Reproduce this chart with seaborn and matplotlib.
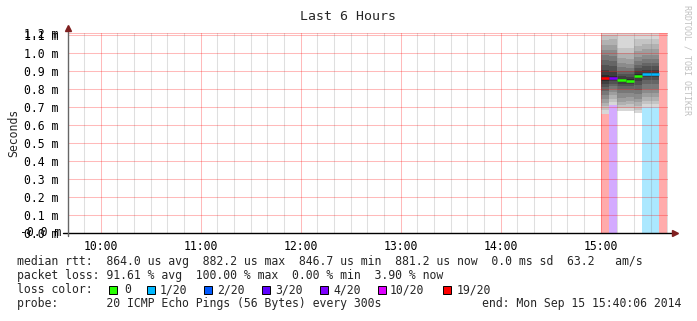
import numpy as np
import pandas as pd
import matplotlib
matplotlib.use("Agg")
import matplotlib.pyplot as plt
import seaborn as sns
from matplotlib.ticker import FixedLocator
from matplotlib.patches import Rectangle
from matplotlib.lines import Line2D

# ---------------- data ----------------
col_start = ["15:00", "15:05", "15:10", "15:15", "15:20", "15:25", "15:30", "15:35"]
loss_count = [19, 4, 0, 0, 0, 1, 1, 20]          # lost pings out of 20
median_ms = [0.861, 0.859, 0.848, 0.846, 0.874, 0.883, 0.883, np.nan]
pings_ms = [
    [0.661, 0.683, 0.706, 0.722, 0.744, 0.767, 0.789, 0.811, 0.828, 0.844,
     0.878, 0.906, 0.933, 0.961, 0.989, 1.017, 1.044, 1.072, 1.100, 1.200],
    [0.713, 0.725, 0.745, 0.765, 0.785, 0.800, 0.815, 0.830, 0.842, 0.852,
     0.872, 0.895, 0.925, 0.955, 0.985, 1.015, 1.045, 1.075, 1.100, 1.200],
    [0.680, 0.695, 0.712, 0.730, 0.750, 0.775, 0.800, 0.815, 0.828, 0.838,
     0.858, 0.872, 0.885, 0.900, 0.920, 0.945, 0.970, 1.000, 1.030, 1.250],
    [0.680, 0.697, 0.715, 0.735, 0.755, 0.778, 0.800, 0.816, 0.830, 0.840,
     0.855, 0.868, 0.882, 0.898, 0.918, 0.940, 0.968, 0.998, 1.030, 1.250],
    [0.668, 0.685, 0.705, 0.725, 0.745, 0.770, 0.795, 0.820, 0.845, 0.862,
     0.886, 0.900, 0.918, 0.935, 0.955, 0.980, 1.010, 1.040, 1.080, 1.250],
    [0.700, 0.715, 0.735, 0.755, 0.775, 0.800, 0.825, 0.850, 0.866, 0.876,
     0.890, 0.905, 0.925, 0.945, 0.965, 0.990, 1.020, 1.050, 1.080, 1.250],
    [0.700, 0.715, 0.735, 0.755, 0.775, 0.800, 0.825, 0.850, 0.866, 0.876,
     0.890, 0.905, 0.925, 0.945, 0.965, 0.990, 1.020, 1.050, 1.080, 1.250],
    [],
]
loss_labels = ["0", "1/20", "2/20", "3/20", "4/20", "10/20", "19/20"]
loss_thresholds = [0, 1, 2, 3, 4, 10, 19]
loss_colors = ["#26ff00", "#00b8ff", "#0059ff", "#5e00ff", "#7e00ff", "#dd00ff", "#ff0000"]

hour_ticks = [10, 11, 12, 13, 14, 15]
hour_labels = ["10:00", "11:00", "12:00", "13:00", "14:00", "15:00"]
y_ticks = [0.0, 0.1, 0.2, 0.3, 0.4, 0.5, 0.6, 0.7, 0.8, 0.9, 1.0, 1.1, 1.111]
y_labels = ["0.0 m", "0.1 m", "0.2 m", "0.3 m", "0.4 m", "0.5 m", "0.6 m", "0.7 m",
            "0.8 m", "0.9 m", "1.0 m", "1.1 m", "1.2 m"]

title = "Last 6 Hours"
ylabel = "Seconds"
line1 = "median rtt:  864.0 us avg  882.2 us max  846.7 us min  881.2 us now  0.0 ms sd  63.2   am/s"
line2 = "packet loss: 91.61 % avg  100.00 % max  0.00 % min  3.90 % now"
line3 = "loss color:"
line4 = "probe:       20 ICMP Echo Pings (56 Bytes) every 300s"
end_text = "end: Mon Sep 15 15:40:06 2014"
watermark = "RRDTOOL / TOBI OETIKER"

x_start, x_end = 9 + 40.1 / 60, 15 + 40.1 / 60
step_h = 5 / 60

# ---------------- helpers ----------------
def to_hours(s):
    h, m = s.split(":")
    return int(h) + int(m) / 60

def loss_index(n):
    idx = 0
    for i, t in enumerate(loss_thresholds):
        if n >= t:
            idx = i
    return idx

def lighten(hexc, a=0.33):
    c = np.array(matplotlib.colors.to_rgb(hexc))
    return tuple(a * c + (1 - a) * 1.0)

# ---------------- figure ----------------
sns.set_theme(style="white")
plt.rcParams["font.family"] = ["DejaVu Sans Mono", "DejaVu Sans"]

W, H = 697, 321
fig = plt.figure(figsize=(W / 100, H / 100), dpi=100)
ax = fig.add_axes([67.5 / W, 88 / H, 600 / W, 200 / H])
ax.set_facecolor("white")

starts = [to_hours(s) for s in col_start]

# loss background bars
for x0, n in zip(starts, loss_count):
    if n > 0:
        ax.bar(x0, 1.2, bottom=0, width=step_h, align="edge",
               color=lighten(loss_colors[loss_index(n)]), linewidth=0, zorder=1)

# smoke
for x0, p in zip(starts, pings_ms):
    if len(p) == 0:
        continue
    p = sorted(p)
    half = len(p) // 2
    for k in range(half):
        g = (215 - 19 * k) / 255
        ax.bar(x0, p[-1 - k] - p[k], bottom=p[k], width=step_h, align="edge",
               color=(g, g, g), linewidth=0, zorder=1.5)

# grid drawn on top of the data (like rrdtool)
ax.grid(False)
minor_x = np.arange(np.ceil(x_start * 6) / 6, x_end, 1 / 6)
minor_x = [v for v in minor_x if abs(v - round(v)) > 1e-6]
ax.vlines(minor_x, 0, 1.2, colors="#808080", alpha=0.25, linewidth=0.75, zorder=3)
ax.vlines(hour_ticks, 0, 1.2, colors="#ff0000", alpha=0.27, linewidth=0.75, zorder=3)
ax.hlines(y_ticks, x_start, x_end, colors="#ff0000", alpha=0.27, linewidth=0.75, zorder=3)

# median lines (seaborn)
rows = []
for i, (x0, m, n) in enumerate(zip(starts, median_ms, loss_count)):
    if np.isnan(m):
        continue
    lab = loss_labels[loss_index(n)]
    rows.append(dict(t=x0, median=m, col=i, loss=lab))
    rows.append(dict(t=x0 + step_h, median=m, col=i, loss=lab))
df = pd.DataFrame(rows)
pal = dict(zip(loss_labels, loss_colors))
sns.lineplot(data=df, x="t", y="median", hue="loss", units="col", estimator=None,
             palette=pal, linewidth=1.8, legend=False, ax=ax, zorder=4)
for ln in ax.get_lines():
    ln.set_solid_capstyle("butt")

# axes limits / ticks
ax.set_xlim(x_start, x_end)
ax.set_ylim(0, 1.111)
ax.xaxis.set_major_locator(FixedLocator(hour_ticks))
ax.set_xticklabels(hour_labels)
ax.xaxis.set_minor_locator(FixedLocator(minor_x))
ax.yaxis.set_major_locator(FixedLocator(y_ticks))
ax.set_yticklabels(y_labels)
ax.set_xlabel("")
ax.set_ylabel("")

ax.tick_params(axis="both", which="major", labelsize=8.3, length=2,
               color="#f0b0b0", labelcolor="black", direction="out")
ax.tick_params(axis="x", which="major", pad=3)
ax.tick_params(axis="y", which="major", pad=4.5)
ax.tick_params(axis="x", which="minor", length=2, color="#dddddd")

for s in ax.spines.values():
    s.set_visible(False)

# axis lines with arrows
ax.add_line(Line2D([-0.008, 1.008], [0, 0], transform=ax.transAxes, color="black",
                   linewidth=1.0, clip_on=False, zorder=6))
ax.plot([1.012], [0], marker=">", markersize=4.5, color="#7f2020",
        transform=ax.transAxes, clip_on=False, zorder=7)
ax.add_line(Line2D([0, 0], [-0.015, 1.02], transform=ax.transAxes, color="#666666",
                   linewidth=1.0, clip_on=False, zorder=6))
ax.plot([0], [1.027], marker="^", markersize=4.5, color="#7f2020",
        transform=ax.transAxes, clip_on=False, zorder=7)

# overlapping "-0.0 m" label as in the original
ax.text(-6.2 / 600, 0, "-0.0 m", transform=ax.get_yaxis_transform(),
        ha="right", va="center", fontsize=8.3, color="black")

# title & y label
def fx(x):
    return x / W

def fy(y):
    return 1 - y / H

fig.text(fx(348), fy(16), title, ha="center", va="center", fontsize=9.5)
fig.text(fx(14), fy(133), ylabel, ha="center", va="center", rotation=90, fontsize=8.3)
fig.text(fx(686.5), fy(5), watermark, ha="center", va="top", rotation=270,
         fontsize=6.0, color="#c0c0c0")

# legend / info lines
base = 265.3
fs = 8.3
fig.text(fx(17), fy(base), line1, ha="left", va="baseline", fontsize=fs)
fig.text(fx(17), fy(base + 14), line2, ha="left", va="baseline", fontsize=fs)
fig.text(fx(17), fy(base + 28), line3, ha="left", va="baseline", fontsize=fs)
fig.text(fx(17), fy(base + 42), line4, ha="left", va="baseline", fontsize=fs)
fig.text(fx(681.7), fy(base + 42), end_text, ha="right", va="baseline", fontsize=fs)

box_x = [109, 146.7, 204, 261.7, 320, 378, 442.7]
lab_x = [124, 160, 217, 275, 333, 390, 457]
for bx, lx, lab, col in zip(box_x, lab_x, loss_labels, loss_colors):
    fig.patches.append(Rectangle((fx(bx), fy(293.5)), 8 / W, 8 / H, transform=fig.transFigure,
                                 facecolor=col, edgecolor="black", linewidth=0.7))
    fig.text(fx(lx), fy(base + 28), lab, ha="left", va="baseline", fontsize=fs)

fig.savefig("out.png", dpi=100, facecolor="white")
